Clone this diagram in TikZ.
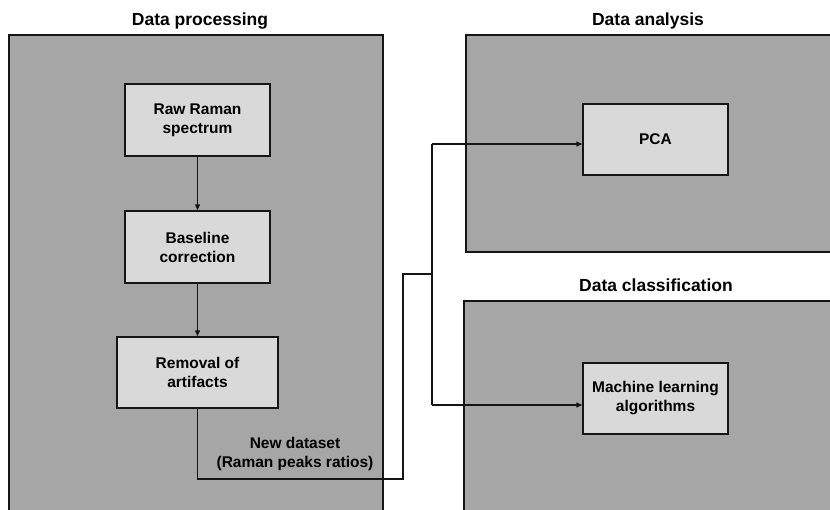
\documentclass[tikz,border=0pt]{standalone}
\usepackage{fontspec}
\setmainfont{Liberation Sans}
\usetikzlibrary{arrows.meta}
\definecolor{panelgray}{HTML}{A6A6A6}
\definecolor{boxgray}{HTML}{D9D9D9}
\definecolor{edge}{HTML}{151515}
\tikzset{
  panel/.style={draw=edge, line width=1.6pt, fill=panelgray},
  title/.style={font=\fontsize{17.5}{21}\selectfont\bfseries, inner sep=0pt},
  stepbox/.style={draw=edge, line width=1.4pt, fill=boxgray, align=center,
    font=\fontsize{15.5}{19}\selectfont\bfseries, inner sep=0pt},
  link/.style={draw=edge, line width=1.2pt},
  arr/.style={link, -{Triangle[length=6pt, width=5pt]}}
}
\begin{document}
\begin{tikzpicture}[x=1pt, y=-1pt]
\useasboundingbox (0,0) rectangle (830,510);
\clip (0,0) rectangle (830,510);
\fill[white] (0,0) rectangle (830,510);

% panels
\draw[panel] (9,35) rectangle (383,530);
\draw[panel] (466,35) rectangle (845,252);
\draw[panel] (464,301) rectangle (845,530);

% panel titles
\node[title] (tp) at (200,21) {Data processing};
\node[title] (ta) at (648,21) {Data analysis};
\node[title] (tc) at (656,285) {Data classification};

% processing steps
\node[stepbox, minimum width=145pt, minimum height=72pt] (raw) at (197.5,120) {Raw Raman\\spectrum};
\node[stepbox, minimum width=145pt, minimum height=72pt] (base) at (197.5,247) {Baseline\\correction};
\node[stepbox, minimum width=161pt, minimum height=71pt] (rem) at (197.5,372.5) {Removal of\\artifacts};

% analysis / classification
\node[stepbox, minimum width=145pt, minimum height=71pt] (pca) at (655.5,139.5) {PCA};
\node[stepbox, minimum width=145pt, minimum height=71pt] (ml) at (655.5,398.5) {Machine learning\\algorithms};

\draw[arr] (raw.south) -- (base.north);
\draw[arr] (base.south) -- (rem.north);

% routing of the new dataset
\coordinate (c1) at (197.5,479);
\coordinate (c2) at (403,479);
\coordinate (c3) at (403,274);
\coordinate (jn) at (432,274);
\coordinate (jt) at (432,144);
\coordinate (jb) at (432,405);
\draw[link] (rem.south) -- (c1) -- (c2) -- (c3) -- (jn);
\draw[link] (jt) -- (jb);
\draw[arr] (jt) -- (jt -| pca.west);
\draw[arr] (jb) -- (jb -| ml.west);

\node[align=center, font=\fontsize{15.5}{19}\selectfont\bfseries, inner sep=0pt] (lbl) at (295,454)
  {New dataset\\(Raman peaks ratios)};
\end{tikzpicture}
\end{document}
